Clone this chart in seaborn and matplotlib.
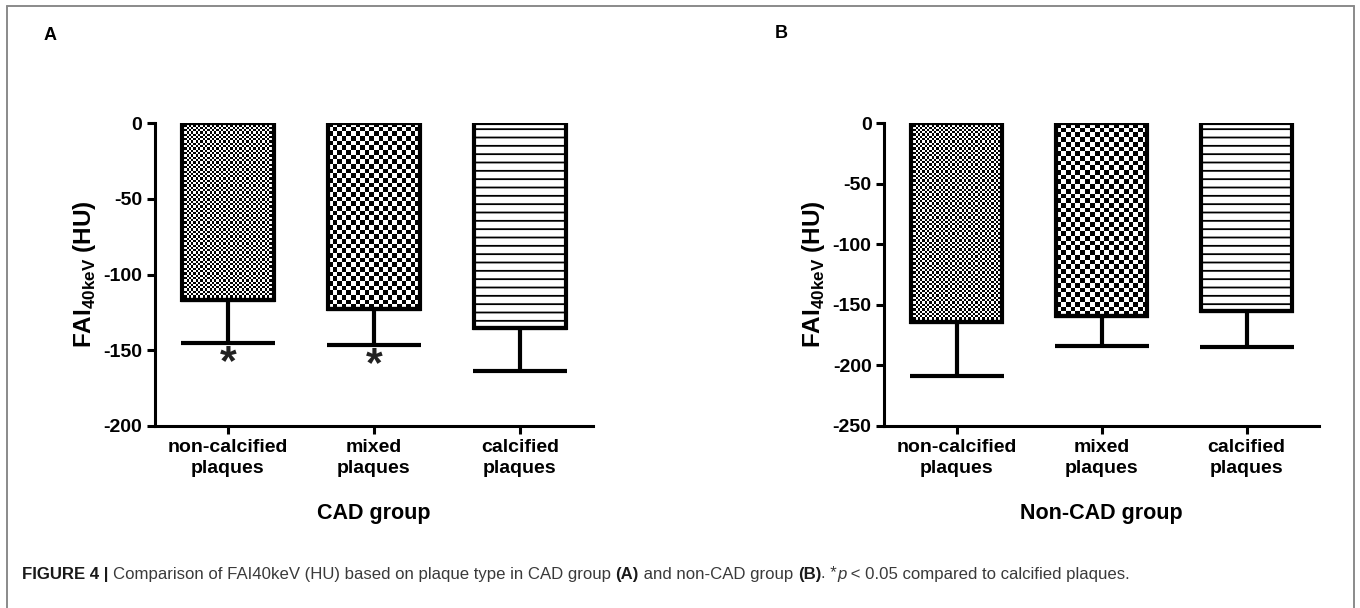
import numpy as np
import matplotlib
matplotlib.use("Agg")
import matplotlib.pyplot as plt
import seaborn as sns
from matplotlib.lines import Line2D

# ---------------- data ----------------
categories = ["non-calcified\nplaques", "mixed\nplaques", "calcified\nplaques"]
cad_mean = [-117, -123, -135.5]
cad_sd = [28, 23.5, 28]
cad_sig = [True, True, False]
noncad_mean = [-164.5, -159, -155]
noncad_sd = [44, 25, 30]
noncad_sig = [False, False, False]
cad_ticks = [0, -50, -100, -150, -200]
noncad_ticks = [0, -50, -100, -150, -200, -250]
panel_titles = ["CAD group", "Non-CAD group"]
panel_letters = ["A", "B"]
ylabel = r"FAI$_{\mathbf{40keV}}$ (HU)"

# ---------------- style ----------------
sns.set_style("ticks")
plt.rcParams["font.family"] = ["Liberation Sans", "DejaVu Sans"]
plt.rcParams["mathtext.fontset"] = "custom"
plt.rcParams["mathtext.rm"] = "Liberation Sans:bold"
plt.rcParams["mathtext.bf"] = "Liberation Sans:bold"
plt.rcParams["hatch.linewidth"] = 1.3
plt.rcParams["text.color"] = "black"
plt.rcParams["axes.labelcolor"] = "black"
plt.rcParams["xtick.color"] = "black"
plt.rcParams["ytick.color"] = "black"

W, H = 1360, 608
fig = plt.figure(figsize=(W / 100, H / 100), dpi=100)
fig.patch.set_facecolor("white")

def frac_box(l, r, t, b):
    return [l / W, 1 - b / H, (r - l) / W, (b - t) / H]

axA = fig.add_axes(frac_box(155, 593, 123, 426))
axB = fig.add_axes(frac_box(884, 1319, 123, 426))

textures = ["checker_fine", "checker_coarse", "hlines"]
cell_px = {"checker_fine": 2.3, "checker_coarse": 4.7}


def draw_panel(ax, means, sds, sig, ticks, xlabel):
    sns.barplot(x=categories, y=means, ax=ax, color="white", edgecolor="black",
                linewidth=3.0, width=0.63, errorbar=None, saturation=1, zorder=3)
    ax.set_xlim(-0.5, len(categories) - 0.5)
    ax.set_ylim(min(ticks), max(ticks))
    ax.set_yticks(ticks)
    ax.set_yticklabels([str(t) for t in ticks])
    fig.canvas.draw()
    for patch, tex in zip(ax.patches, textures):
        if tex == "hlines":
            patch.set_hatch("--")
            patch.set_facecolor("white")
            continue
        bb = patch.get_bbox()
        x0, x1 = bb.x0, bb.x1
        y0, y1 = min(bb.y0, bb.y1), max(bb.y0, bb.y1)
        p0 = ax.transData.transform((x0, y0))
        p1 = ax.transData.transform((x1, y1))
        wpx, hpx = abs(p1[0] - p0[0]), abs(p1[1] - p0[1])
        c = cell_px[tex]
        nx, ny = max(1, int(round(wpx / c))), max(1, int(round(hpx / c)))
        arr = np.add.outer(np.arange(ny), np.arange(nx)) % 2
        im = ax.imshow(arr, cmap="gray", vmin=0, vmax=1, extent=[x0, x1, y0, y1],
                       interpolation="nearest", aspect="auto", zorder=2.5, origin="upper")
        im.set_clip_path(patch)
        patch.set_facecolor("none")
    ax.set_xlim(-0.5, len(categories) - 0.5)
    ax.set_ylim(min(ticks), max(ticks))

    xs = np.arange(len(categories))
    ax.errorbar(xs, means, yerr=[sds, np.zeros(len(sds))], fmt="none", ecolor="black",
                elinewidth=3.0, capsize=34, capthick=3.0, zorder=4)
    for x, m, s, g in zip(xs, means, sds, sig):
        if g:
            ax.text(x, m - s - 13.5, "*", ha="center", va="center", fontsize=31,
                    fontweight="bold", color="#222222")

    sns.despine(ax=ax)
    for sp in ["left", "bottom"]:
        ax.spines[sp].set_linewidth(2.2)
        ax.spines[sp].set_color("black")
    ax.tick_params(axis="both", direction="out", length=6, width=2.2, colors="black",
                   labelsize=14, pad=3)
    for lab in ax.get_xticklabels() + ax.get_yticklabels():
        lab.set_fontweight("bold")
        lab.set_linespacing(1.35)
    ax.set_ylabel(ylabel, fontsize=17.5, fontweight="bold")
    ax.yaxis.set_label_coords(-0.13, 0.5)
    ax.set_xlabel(xlabel, fontsize=15.5, fontweight="bold")
    ax.xaxis.set_label_coords(0.5, -0.255)
    ax.set_facecolor("none")


draw_panel(axA, cad_mean, cad_sd, cad_sig, cad_ticks, panel_titles[0])
draw_panel(axB, noncad_mean, noncad_sd, noncad_sig, noncad_ticks, panel_titles[1])

fig.text(50 / W, 1 - 35 / H, panel_letters[0], fontsize=13, fontweight="bold",
         ha="center", va="center")
fig.text(781 / W, 1 - 33 / H, panel_letters[1], fontsize=13, fontweight="bold",
         ha="center", va="center")

# outer frame
fc = "#8a8a8a"
fig.add_artist(Line2D([7 / W, 7 / W], [0, 1 - 6 / H], color=fc, lw=1.4, transform=fig.transFigure))
fig.add_artist(Line2D([1354 / W, 1354 / W], [0, 1 - 6 / H], color=fc, lw=1.4, transform=fig.transFigure))
fig.add_artist(Line2D([7 / W, 1354 / W], [1 - 6 / H, 1 - 6 / H], color=fc, lw=1.4, transform=fig.transFigure))

# caption
cap_font = ["Liberation Sans Narrow", "Liberation Sans", "DejaVu Sans"]
pieces = [
    ("FIGURE 4 | ", "bold", "normal", "#1a1a1a"),
    ("Comparison of FAI40keV (HU) based on plaque type in CAD group ", "normal", "normal", "#3a3a3a"),
    ("(A)", "bold", "normal", "#1a1a1a"),
    (" and non-CAD group ", "normal", "normal", "#3a3a3a"),
    ("(B)", "bold", "normal", "#1a1a1a"),
    (". *", "normal", "normal", "#3a3a3a"),
    ("p", "normal", "italic", "#3a3a3a"),
    (" < 0.05 compared to calcified plaques.", "normal", "normal", "#3a3a3a"),
]
renderer = fig.canvas.get_renderer()
xpix = 22
for txt, wt, st, col in pieces:
    t = fig.text(xpix / W, 1 - 574 / H, txt, fontsize=12.1, fontweight=wt, fontstyle=st,
                 color=col, ha="left", va="center", family=cap_font)
    bb = t.get_window_extent(renderer)
    xpix += bb.width

fig.savefig("out.png", dpi=100, facecolor="white")
